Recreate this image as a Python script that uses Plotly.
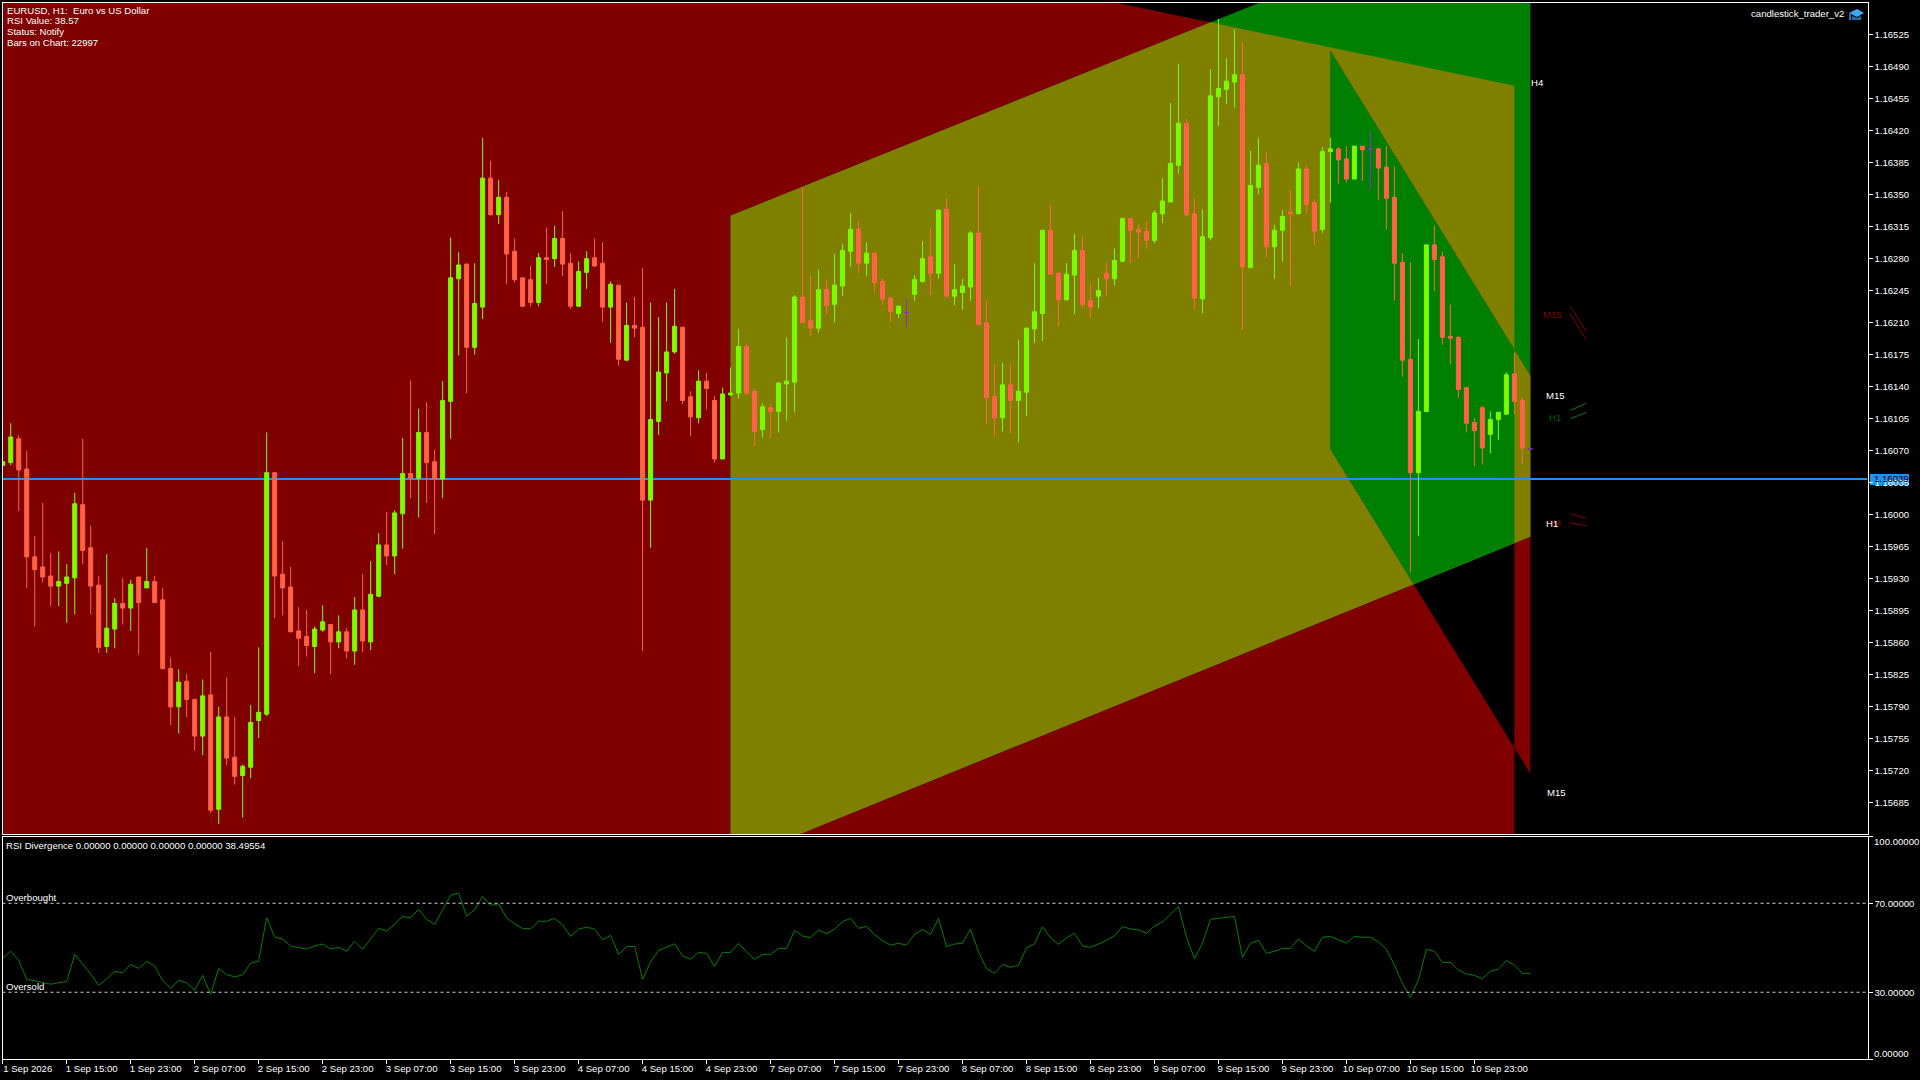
import plotly.graph_objects as go

open_ = [1.16054,1.16057,1.16083,1.16050,1.15954,1.15943,1.15933,1.15922,1.15925,1.15931,
1.16011,1.15964,1.15923,1.15856,1.15875,1.15903,1.15898,1.15932,1.15920,1.15927,
1.15907,1.15832,1.15790,1.15818,1.15798,1.15758,1.15803,1.15678,1.15779,1.15735,
1.15715,1.15724,1.15775,1.15782,1.16046,1.15935,1.15921,1.15873,1.15867,1.15856,
1.15874,1.15880,1.15861,1.15872,1.15851,1.15896,1.15861,1.15911,1.15967,1.15955,
1.16001,1.16045,1.16040,1.16090,1.16058,1.16039,1.16124,1.16258,1.16274,1.16183,
1.16227,1.16368,1.16328,1.16347,1.16288,1.16259,1.16257,1.16232,1.16281,1.16280,
1.16302,1.16275,1.16228,1.16265,1.16281,1.16275,1.16227,1.16251,1.16169,1.16207,
1.16205,1.16016,1.16102,1.16155,1.16178,1.16205,1.16129,1.16106,1.16146,1.16125,
1.16061,1.16131,1.16133,1.16184,1.16135,1.16093,1.16117,1.16113,1.16143,1.16145,
1.16238,1.16212,1.16204,1.16246,1.16230,1.16250,1.16288,1.16312,1.16275,1.16286,
1.16255,1.16237,1.16220,1.16221,1.16241,1.16255,1.16282,1.16264,1.16334,1.16239,
1.16243,1.16249,1.16308,1.16210,1.16129,1.16106,1.16142,1.16125,1.16134,1.16203,
1.16220,1.16311,1.16264,1.16235,1.16262,1.16289,1.16234,1.16239,1.16264,1.16258,
1.16277,1.16324,1.16312,1.16310,1.16300,1.16329,1.16342,1.16382,1.16428,1.16329,
1.16236,1.16303,1.16457,1.16465,1.16473,1.16481,1.16270,1.16358,1.16384,1.16293,
1.16311,1.16331,1.16329,1.16378,1.16341,1.16312,1.16397,1.16400,1.16389,1.16367,
1.16403,1.16400,1.16400,1.16380,1.16347,1.16276,1.16170,1.16046,1.16113,1.16295,
1.16282,1.16195,1.16194,1.16139,1.16101,1.16117,1.16088,1.16104,1.16110,1.16154,
1.16125,1.16072]
high = [1.16058,1.16100,1.16087,1.16070,1.15977,1.16013,1.15958,1.15960,1.15946,1.16024,
1.16083,1.15988,1.15933,1.15957,1.15909,1.15931,1.15929,1.15932,1.15964,1.15933,
1.15920,1.15844,1.15831,1.15826,1.15799,1.15820,1.15850,1.15790,1.15822,1.15779,
1.15727,1.15792,1.15855,1.16090,1.16046,1.15971,1.15943,1.15899,1.15896,1.15878,
1.15901,1.15880,1.15890,1.15876,1.15910,1.15935,1.15949,1.15980,1.16003,1.16005,
1.16084,1.16147,1.16116,1.16123,1.16071,1.16146,1.16303,1.16287,1.16275,1.16275,
1.16412,1.16387,1.16366,1.16353,1.16302,1.16259,1.16272,1.16286,1.16314,1.16316,
1.16332,1.16286,1.16277,1.16288,1.16302,1.16298,1.16255,1.16251,1.16232,1.16238,
1.16270,1.16232,1.16216,1.16232,1.16247,1.16205,1.16135,1.16158,1.16155,1.16130,
1.16139,1.16161,1.16203,1.16187,1.16138,1.16122,1.16121,1.16145,1.16194,1.16240,
1.16358,1.16261,1.16268,1.16257,1.16285,1.16296,1.16330,1.16321,1.16298,1.16287,
1.16258,1.16237,1.16228,1.16236,1.16262,1.16299,1.16314,1.16333,1.16346,1.16274,
1.16258,1.16310,1.16358,1.16234,1.16165,1.16166,1.16165,1.16191,1.16204,1.16275,
1.16311,1.16339,1.16265,1.16275,1.16307,1.16305,1.16253,1.16259,1.16275,1.16291,
1.16324,1.16324,1.16318,1.16321,1.16333,1.16368,1.16450,1.16493,1.16433,1.16346,
1.16334,1.16487,1.16542,1.16499,1.16531,1.16516,1.16398,1.16412,1.16396,1.16317,
1.16333,1.16355,1.16385,1.16382,1.16345,1.16402,1.16412,1.16402,1.16403,1.16403,
1.16403,1.16419,1.16401,1.16403,1.16381,1.16286,1.16276,1.16192,1.16295,1.16316,
1.16288,1.16230,1.16195,1.16139,1.16106,1.16119,1.16113,1.16112,1.16156,1.16177,
1.16128,1.16072]
low = [1.16054,1.16054,1.16004,1.15920,1.15878,1.15926,1.15900,1.15900,1.15882,1.15891,
1.15946,1.15891,1.15849,1.15849,1.15854,1.15880,1.15873,1.15847,1.15920,1.15904,
1.15831,1.15770,1.15761,1.15779,1.15742,1.15737,1.15674,1.15662,1.15726,1.15705,
1.15669,1.15712,1.15756,1.15780,1.15887,1.15890,1.15872,1.15835,1.15845,1.15827,
1.15872,1.15826,1.15854,1.15843,1.15836,1.15850,1.15852,1.15910,1.15945,1.15935,
1.15963,1.16018,1.15997,1.16013,1.15979,1.16018,1.16083,1.16174,1.16133,1.16175,
1.16214,1.16327,1.16318,1.16252,1.16254,1.16227,1.16228,1.16228,1.16252,1.16271,
1.16261,1.16225,1.16227,1.16247,1.16271,1.16211,1.16188,1.16163,1.16168,1.16194,
1.15851,1.15964,1.16087,1.16124,1.16176,1.16121,1.16086,1.16100,1.16115,1.16057,
1.16061,1.16130,1.16127,1.16131,1.16075,1.16085,1.16084,1.16090,1.16103,1.16112,
1.16210,1.16195,1.16199,1.16219,1.16210,1.16239,1.16271,1.16264,1.16261,1.16243,
1.16229,1.16211,1.16215,1.16205,1.16234,1.16254,1.16240,1.16258,1.16237,1.16229,
1.16224,1.16234,1.16208,1.16099,1.16086,1.16091,1.16089,1.16079,1.16108,1.16188,
1.16190,1.16263,1.16206,1.16234,1.16219,1.16225,1.16216,1.16226,1.16239,1.16251,
1.16277,1.16275,1.16280,1.16291,1.16297,1.16319,1.16342,1.16373,1.16326,1.16224,
1.16220,1.16300,1.16425,1.16449,1.16445,1.16202,1.16270,1.16350,1.16281,1.16258,
1.16277,1.16250,1.16329,1.16329,1.16295,1.16308,1.16341,1.16362,1.16363,1.16367,
1.16365,1.16356,1.16344,1.16312,1.16234,1.16151,1.15937,1.15977,1.16112,1.16244,
1.16186,1.16165,1.16128,1.16090,1.16053,1.16055,1.16067,1.16082,1.16109,1.16110,
1.16055,1.16072]
close = [1.16058,1.16085,1.16049,1.15954,1.15940,1.15932,1.15922,1.15927,1.15932,1.16012,
1.15961,1.15922,1.15855,1.15876,1.15903,1.15898,1.15924,1.15904,1.15927,1.15904,
1.15832,1.15790,1.15817,1.15798,1.15758,1.15802,1.15677,1.15779,1.15734,1.15714,
1.15725,1.15773,1.15784,1.16046,1.15933,1.15920,1.15872,1.15865,1.15857,1.15875,
1.15883,1.15861,1.15872,1.15851,1.15896,1.15862,1.15913,1.15967,1.15955,1.16002,
1.16045,1.16040,1.16090,1.16057,1.16039,1.16125,1.16259,1.16273,1.16183,1.16231,
1.16368,1.16328,1.16347,1.16285,1.16257,1.16228,1.16232,1.16281,1.16279,1.16302,
1.16274,1.16228,1.16266,1.16280,1.16272,1.16227,1.16252,1.16170,1.16207,1.16204,
1.16016,1.16104,1.16156,1.16178,1.16206,1.16125,1.16107,1.16146,1.16138,1.16061,
1.16132,1.16133,1.16184,1.16133,1.16091,1.16118,1.16113,1.16144,1.16146,1.16238,
1.16210,1.16204,1.16246,1.16229,1.16251,1.16289,1.16312,1.16275,1.16286,1.16254,
1.16236,1.16222,1.16228,1.16221,1.16257,1.16280,1.16264,1.16333,1.16239,1.16246,
1.16250,1.16308,1.16208,1.16128,1.16106,1.16142,1.16125,1.16135,1.16204,1.16222,
1.16311,1.16263,1.16235,1.16263,1.16289,1.16230,1.16227,1.16245,1.16258,1.16278,
1.16324,1.16311,1.16309,1.16300,1.16330,1.16343,1.16384,1.16428,1.16328,1.16237,
1.16304,1.16458,1.16466,1.16474,1.16481,1.16271,1.16360,1.16382,1.16293,1.16311,
1.16326,1.16329,1.16378,1.16339,1.16310,1.16397,1.16400,1.16388,1.16367,1.16403,
1.16399,1.16400,1.16379,1.16346,1.16275,1.16169,1.16046,1.16113,1.16295,1.16279,
1.16194,1.16193,1.16137,1.16100,1.16092,1.16073,1.16104,1.16112,1.16153,1.16124,
1.16073,1.16072]
rsi = [45.2,48.5,44.2,35.8,35.1,34.3,33.6,34.3,34.9,47.0,
42.5,38.2,33.1,36.0,39.4,38.8,42.5,40.7,43.9,41.8,
35.2,31.8,35.4,34.2,30.9,37.6,29.1,40.7,37.9,36.9,
37.8,43.1,44.0,63.5,54.8,53.9,50.8,50.2,49.4,50.8,
51.7,49.4,50.2,48.4,52.9,49.3,54.2,58.7,57.4,60.8,
64.0,63.5,67.3,62.8,60.5,67.0,73.7,74.5,64.3,67.0,
73.1,69.1,69.7,63.5,60.8,58.6,58.6,61.9,61.9,63.2,
60.2,55.1,58.4,59.2,58.4,53.5,55.6,47.0,50.6,50.6,
35.8,43.7,48.7,50.2,51.8,46.3,44.8,47.9,47.5,41.5,
47.9,47.9,52.0,48.2,44.8,47.0,47.0,49.7,49.7,57.8,
55.3,54.5,58.0,56.3,58.3,61.7,63.2,58.7,59.6,55.9,
53.2,51.2,52.0,51.2,56.0,58.3,56.0,63.2,50.5,51.7,
52.0,58.4,48.2,40.7,38.5,42.5,41.2,42.1,50.0,51.7,
59.5,54.5,51.5,54.5,56.5,50.8,50.2,51.7,53.3,55.3,
59.5,58.4,58.0,56.5,59.8,61.6,65.0,68.6,54.7,45.1,
52.0,62.8,63.2,63.7,64.1,45.7,52.0,53.3,47.5,48.4,
49.7,49.7,53.9,50.9,48.4,54.7,55.1,53.6,52.1,55.1,
54.7,54.7,52.7,49.3,42.2,34.0,27.7,35.5,49.3,48.4,
43.4,43.4,40.0,38.2,37.6,36.1,39.5,40.3,44.2,42.2,
38.5,38.5]

time_labels = ["1 Sep 2026","1 Sep 15:00","1 Sep 23:00","2 Sep 07:00","2 Sep 15:00","2 Sep 23:00",
"3 Sep 07:00","3 Sep 15:00","3 Sep 23:00","4 Sep 07:00","4 Sep 15:00","4 Sep 23:00",
"7 Sep 07:00","7 Sep 15:00","7 Sep 23:00","8 Sep 07:00","8 Sep 15:00","8 Sep 23:00",
"9 Sep 07:00","9 Sep 15:00","9 Sep 23:00","10 Sep 07:00","10 Sep 15:00","10 Sep 23:00"]
price_ticks = [1.16525,1.16490,1.16455,1.16420,1.16385,1.16350,1.16315,1.16280,1.16245,1.16210,
1.16175,1.16140,1.16105,1.16070,1.16035,1.16000,1.15965,1.15930,1.15895,1.15860,
1.15825,1.15790,1.15755,1.15720,1.15685]
rsi_ticks = [0,30,70,100]
rsi_labels = ["","30.00000","70.00000",""]

bid = 1.16039
overbought = 70
oversold = 30
x_range = [-0.03,233.15]
price_range = [1.15651,1.16560]

# zones, bar number and price of the corners
h4_bars = [-5,189,189,-5]
h4_prices = [1.16823,1.16469,1.15400,1.15400]
h1_bars = [91,191,191,91]
h1_prices = [1.16327,1.16679,1.15976,1.15620]
m15_bars = [166,191,191,166]
m15_prices = [1.16507,1.16152,1.15717,1.16072]

# little trend stubs right of the chart
stub_bars = [196,198]
stubs = [([1.16228,1.16200],"#800000"),([1.16219,1.16191],"#800000"),
         ([1.16114,1.16122],"#008000"),([1.16105,1.16112],"#008000"),
         ([1.16001,1.15996],"#800000"),([1.15991,1.15988],"#800000")]
tf_labels = [("H4",191.9,1.16472,"white"),("M15",193.8,1.16219,"#800000"),("M15",194.2,1.16130,"white"),
             ("H1",194.1,1.16106,"#006400"),("H4",194.2,1.15992,"#800000"),("H1",193.7,1.15990,"white"),
             ("M15",194.3,1.15696,"white")]

RED = "#800000"
GREEN = "#008000"
OLIVE = "#808000"
FONT = "Liberation Sans, sans-serif"
FS = 9.6

def px(v):
    return v/1920

def py(v):
    return 1-v/1080

def clip(poly, clipper):
    # Sutherland-Hodgman, both polygons are convex
    def side(p, a, b):
        return (b[0]-a[0])*(p[1]-a[1])-(b[1]-a[1])*(p[0]-a[0])
    area = sum(clipper[i][0]*clipper[(i+1)%len(clipper)][1]-clipper[(i+1)%len(clipper)][0]*clipper[i][1] for i in range(len(clipper)))
    sign = 1 if area > 0 else -1
    out = list(poly)
    for i in range(len(clipper)):
        a, b = clipper[i], clipper[(i+1)%len(clipper)]
        pts, out = out, []
        for j in range(len(pts)):
            p, q = pts[j], pts[(j+1)%len(pts)]
            sp, sq = sign*side(p,a,b), sign*side(q,a,b)
            if sp >= 0:
                out.append(p)
            if sp*sq < 0:
                t = sp/(sp-sq)
                out.append((p[0]+t*(q[0]-p[0]), p[1]+t*(q[1]-p[1])))
        if not out:
            return []
    return out

A = list(zip(h4_bars,h4_prices))
B = list(zip(h1_bars,h1_prices))
C = list(zip(m15_bars,m15_prices))
AB = clip(A,B)
CA = clip(C,A)
CB = clip(C,B)
CAB = clip(CA,B)
# the terminal xors overlapping zones, painted here region by region
zones = [(A,RED),(B,GREEN),(AB,OLIVE),(C,RED),(CA,"black"),(CB,OLIVE),(CAB,GREEN)]

fig = go.Figure()

for poly,col in zones:
    xs = [p[0] for p in poly]+[poly[0][0]]
    ys = [p[1] for p in poly]+[poly[0][1]]
    fig.add_trace(go.Scatter(x=xs,y=ys,mode="lines",fill="toself",fillcolor=col,line=dict(width=0,color=col),xaxis="x",yaxis="y"))

fig.add_trace(go.Scatter(x=x_range,y=[bid,bid],mode="lines",line=dict(color="#1E90FF",width=2),xaxis="x",yaxis="y"))

for ys,col in stubs:
    fig.add_trace(go.Scatter(x=stub_bars,y=ys,mode="lines",line=dict(color=col,width=1),xaxis="x",yaxis="y"))

bars = list(range(len(open_)))
body = [i for i in bars if open_[i] != close[i]]
doji = [i for i in bars if open_[i] == close[i]]
def candle(idx,up,down):
    return go.Candlestick(x=idx,open=[open_[i] for i in idx],high=[high[i] for i in idx],low=[low[i] for i in idx],close=[close[i] for i in idx],
        increasing=dict(line=dict(color=up,width=1),fillcolor=up),decreasing=dict(line=dict(color=down,width=1),fillcolor=down),
        whiskerwidth=0,xaxis="x",yaxis="y3")
fig.add_trace(candle(body,"#7CFC00","#FF6347"))
fig.add_trace(candle(doji,"#8A2BE2","#8A2BE2"))

fig.add_trace(go.Scatter(x=bars,y=rsi,mode="lines",line=dict(color=GREEN,width=1),xaxis="x2",yaxis="y2"))
for level in [overbought,oversold]:
    fig.add_trace(go.Scatter(x=x_range,y=[level,level],mode="lines",line=dict(color="#d0d0d0",width=1,dash="3px,3px"),xaxis="x2",yaxis="y2"))

axis_style = dict(showgrid=False,zeroline=False,showline=True,linecolor="white",linewidth=1,mirror=True,automargin=False,
                  tickcolor="white",ticklen=4,tickwidth=1,tickangle=0,tickfont=dict(color="white",size=FS,family=FONT))
fig.update_layout(
    width=1920,height=1080,margin=dict(l=0,r=0,t=0,b=0),paper_bgcolor="black",plot_bgcolor="black",
    showlegend=False,hovermode=False,boxmode="overlay",boxgap=0.5,boxgroupgap=0,
    xaxis=dict(domain=[px(2.5),px(1867.5)],range=x_range,anchor="y",showticklabels=False,ticks="",rangeslider=dict(visible=False),**axis_style),
    yaxis=dict(domain=[py(834),py(2.5)],range=price_range,anchor="x",side="right",ticks="outside",
               tickvals=price_ticks,ticktext=[f"{v:.5f}" for v in price_ticks],**axis_style),
    yaxis3=dict(range=price_range,overlaying="y",visible=False),
    xaxis2=dict(domain=[px(2.5),px(1867.5)],range=x_range,anchor="y2",ticks="outside",
                tickvals=bars[::8],ticktext=time_labels,ticklabelshift=25,ticklabelstandoff=-4,**axis_style),
    yaxis2=dict(domain=[py(1059),py(836.5)],range=[0,100],anchor="x2",side="right",ticks="outside",
                tickvals=rsi_ticks,ticktext=rsi_labels,**axis_style),
)

def note(text,x,y,color="white",anchor="left"):
    fig.add_annotation(text=text,x=px(x),y=py(y),xref="paper",yref="paper",xanchor=anchor,yanchor="middle",showarrow=False,
                       borderpad=0,font=dict(color=color,size=FS,family=FONT))

note("EURUSD, H1:  Euro vs US Dollar",6,10)
note("RSI Value: 38.57",6,20.7)
note("Status: Notify",6,31.7)
note("Bars on Chart: 22997",6,42.7)
note("candlestick_trader_v2",1845,13.7,anchor="right")
note("RSI Divergence 0.00000 0.00000 0.00000 0.00000 38.49554",4.5,845.7)
note("Overbought",4.5,897.7)
note("Oversold",4.5,986.5)
note("100.00000",1872.5,841)
note("0.00000",1872.5,1053)
note("1.16039",1873,478.5,color="black")

for text,x,y,col in tf_labels:
    fig.add_annotation(text=text,x=x,y=y,xref="x",yref="y",showarrow=False,borderpad=0,font=dict(color=col,size=FS,family=FONT))

# price tag behind the tick labels
fig.add_shape(type="rect",xref="paper",yref="paper",x0=px(1870),x1=px(1909),y0=py(485),y1=py(474),fillcolor="#1E90FF",line_width=0,layer="below")
# cap icon
def poly_path(points):
    return "M"+" L".join(f"{px(a)} {py(b)}" for a,b in points)+" Z"
fig.add_shape(type="path",xref="paper",yref="paper",path=poly_path([(1849,13),(1857,9),(1864,13),(1857,17)]),fillcolor="#3FA9F5",line_width=0)
fig.add_shape(type="path",xref="paper",yref="paper",path=poly_path([(1852,16),(1857,18),(1861,16),(1861,20),(1852,20)]),fillcolor="#1E6FB8",line_width=0)
fig.add_shape(type="rect",xref="paper",yref="paper",x0=px(1849),x1=px(1851),y0=py(20),y1=py(13),fillcolor="#1E6FB8",line_width=0)

fig.write_html("out.html",config=dict(displayModeBar=False),post_script="document.body.style.margin='0';document.body.style.overflow='hidden';")
